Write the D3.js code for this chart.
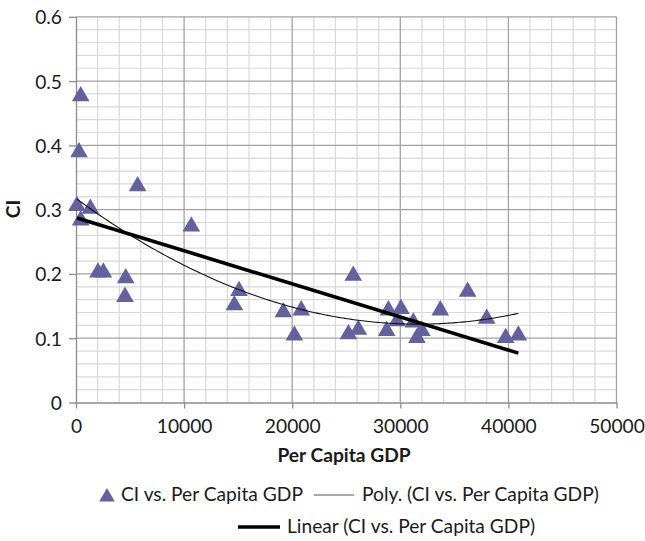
<!DOCTYPE html>
<html><head><meta charset="utf-8">
<script src="https://cdn.jsdelivr.net/npm/d3@7"></script>
<style>body{margin:0;background:#fff}svg{display:block}</style>
</head><body>
<svg id="chart" width="645" height="541"></svg>
<script>
// ---- data ----
const gdp = [435, 280, 90, 1330, 435, 2035, 2530, 4600, 4530, 5700,
             10670, 15080, 14650, 19180, 20840, 20200,
             25650, 25200, 26120, 28900, 28740, 30060, 29700,
             31200, 31540, 31990, 33700, 36230, 37990, 39750, 40920];
const ci  = [0.478, 0.391, 0.3075, 0.303, 0.285, 0.204, 0.204, 0.195, 0.166, 0.338,
             0.2755, 0.175, 0.153, 0.142, 0.145, 0.106,
             0.199, 0.108, 0.115, 0.145, 0.113, 0.147, 0.128,
             0.126, 0.102, 0.113, 0.145, 0.174, 0.132, 0.102, 0.106];
const xTicks = [0, 10000, 20000, 30000, 40000, 50000];
const yTicks = [0, 0.1, 0.2, 0.3, 0.4, 0.5, 0.6];
const xTitle = "Per Capita GDP";
const yTitle = "CI";
const legendLabels = ["CI vs. Per Capita GDP", "Poly. (CI vs. Per Capita GDP)", "Linear (CI vs. Per Capita GDP)"];

// ---- layout ----
const FONT = "Lato, 'Open Sans', sans-serif";
const FS = "19.2px";
const svg = d3.select("#chart");
const x = d3.scaleLinear().domain([0, 50000]).range([76, 616.5]);
const y = d3.scaleLinear().domain([0, 0.6]).range([402.5, 16.8]);
const markerColor = "#64619f";

const pts = gdp.map((g, i) => ({x: g, y: ci[i]}));

// grid
const minorX = d3.range(0, 50001, 2000).filter(v => v % 10000 !== 0);
const minorY = d3.range(0, 0.6001, 0.02).filter(v => Math.abs(v*10 - Math.round(v*10)) > 1e-6);
const g = svg.append("g");
g.selectAll(".mx").data(minorX).join("line")
  .attr("x1", d => x(d)).attr("x2", d => x(d)).attr("y1", y(0)).attr("y2", y(0.6))
  .attr("stroke", "#d9d9d9").attr("stroke-width", 1.2);
g.selectAll(".my").data(minorY).join("line")
  .attr("x1", x(0)).attr("x2", x(50000)).attr("y1", d => y(d)).attr("y2", d => y(d))
  .attr("stroke", "#d9d9d9").attr("stroke-width", 1.2);
g.selectAll(".Mx").data(xTicks.slice(1)).join("line")
  .attr("x1", d => x(d)).attr("x2", d => x(d)).attr("y1", y(0)).attr("y2", y(0.6))
  .attr("stroke", "#a3a3a3").attr("stroke-width", 1.3);
g.selectAll(".My").data(yTicks.slice(1)).join("line")
  .attr("x1", x(0)).attr("x2", x(50000)).attr("y1", d => y(d)).attr("y2", d => y(d))
  .attr("stroke", "#a3a3a3").attr("stroke-width", 1.3);

// axes
const xAxis = d3.axisBottom(x).tickValues(xTicks).tickSize(6).tickSizeOuter(0).tickFormat(d3.format("d"));
const yAxis = d3.axisLeft(y).tickValues(yTicks).tickSize(7).tickSizeOuter(0).tickFormat(d => d === 0 ? "0" : d3.format(".1f")(d));
const gx = svg.append("g").attr("transform", `translate(0,${y(0)})`).call(xAxis);
const gy = svg.append("g").attr("transform", `translate(${x(0)},0)`).call(yAxis);
[gx, gy].forEach(a => {
  a.select(".domain").attr("stroke", "#8c8c8c").attr("stroke-width", 1.3);
  a.selectAll(".tick line").attr("stroke", "#8c8c8c").attr("stroke-width", 1.3);
  a.selectAll(".tick text").attr("fill", "#1a1a1a").style("font-family", FONT).style("font-size", FS);
});
gx.selectAll(".tick text").attr("dy", null).attr("y", 30);
gy.selectAll(".tick text").attr("x", -14).attr("dy", "0.36em");

// markers
const tri = d3.symbol().type(d3.symbolTriangle).size(135);
svg.append("g").selectAll("path").data(pts).join("path")
  .attr("d", tri)
  .attr("transform", d => `translate(${x(d.x)},${y(d.y) + 1})`)
  .attr("fill", markerColor);

// trendlines computed from the data (least squares)
const xmin = d3.min(gdp), xmax = d3.max(gdp);
const mx = d3.mean(gdp), my = d3.mean(ci);
const slope = d3.sum(pts, p => (p.x - mx) * (p.y - my)) / d3.sum(pts, p => (p.x - mx) ** 2);
const icpt = my - slope * mx;

const s = 10000;
function solve3(A, b) {
  const M = A.map((r, i) => [...r, b[i]]);
  for (let i = 0; i < 3; i++) {
    let p = i; for (let k = i+1; k < 3; k++) if (Math.abs(M[k][i]) > Math.abs(M[p][i])) p = k;
    [M[i], M[p]] = [M[p], M[i]];
    for (let k = i+1; k < 3; k++) { const f = M[k][i]/M[i][i]; for (let j = i; j < 4; j++) M[k][j] -= f*M[i][j]; }
  }
  const r = [0,0,0];
  for (let i = 2; i >= 0; i--) { let v = M[i][3]; for (let j = i+1; j < 3; j++) v -= M[i][j]*r[j]; r[i] = v/M[i][i]; }
  return r;
}
const S = k => d3.sum(pts, p => (p.x/s) ** k);
const T = k => d3.sum(pts, p => p.y * (p.x/s) ** k);
const coef = solve3([[S(0), S(1), S(2)], [S(1), S(2), S(3)], [S(2), S(3), S(4)]], [T(0), T(1), T(2)]);
const poly = v => coef[0] + coef[1]*(v/s) + coef[2]*(v/s)**2;

const line = d3.line().x(d => x(d[0])).y(d => y(d[1]));
const polyPts = d3.range(xmin, xmax, 200).concat([xmax]).map(v => [v, poly(v)]);
svg.append("path").attr("d", line(polyPts)).attr("fill", "none").attr("stroke", "#111").attr("stroke-width", 1.1);
svg.append("path").attr("d", line([[xmin, icpt + slope*xmin], [xmax, icpt + slope*xmax]]))
  .attr("fill", "none").attr("stroke", "#000").attr("stroke-width", 3.6);

// titles
svg.append("text").attr("x", 344).attr("y", 462).attr("text-anchor", "middle")
  .style("font-family", FONT).style("font-weight", "bold").style("font-size", FS).attr("fill", "#1a1a1a").text(xTitle);
svg.append("text").attr("transform", "translate(20,209) rotate(-90)").attr("text-anchor", "middle")
  .style("font-family", FONT).style("font-weight", "bold").style("font-size", FS).attr("fill", "#1a1a1a").text(yTitle);

// legend
const lg = svg.append("g").style("font-family", FONT).style("font-size", FS).attr("fill", "#1a1a1a");
lg.append("path").attr("d", d3.symbol().type(d3.symbolTriangle).size(105)).attr("transform", "translate(107,497)").attr("fill", markerColor);
lg.append("text").attr("x", 121).attr("y", 501).text(legendLabels[0]);
lg.append("line").attr("x1", 314).attr("x2", 354).attr("y1", 495).attr("y2", 495).attr("stroke", "#555").attr("stroke-width", 1.2);
lg.append("text").attr("x", 362).attr("y", 501).text(legendLabels[1]);
lg.append("line").attr("x1", 238).attr("x2", 280).attr("y1", 527).attr("y2", 527).attr("stroke", "#000").attr("stroke-width", 3.6);
lg.append("text").attr("x", 287).attr("y", 533).text(legendLabels[2]);
</script>
</body></html>
